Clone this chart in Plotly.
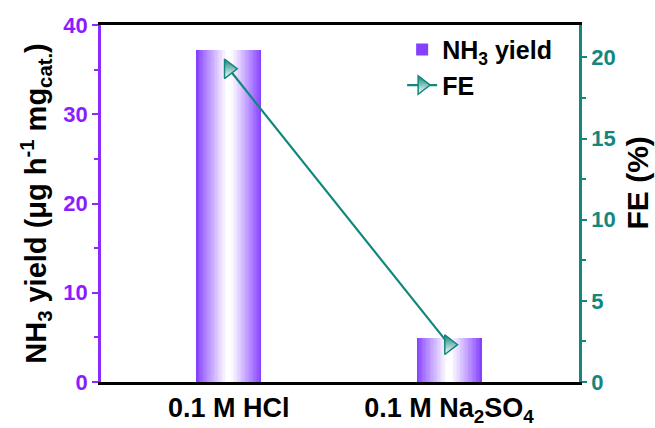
import plotly.graph_objects as go

# Data
electrolytes = ["0.1 M HCl", "0.1 M Na<sub>2</sub>SO<sub>4</sub>"]
nh3_yield = [37.2, 4.9]      # µg h^-1 mg_cat.^-1
fe_percent = [19.3, 2.3]     # %

PURPLE = "#8A2BFF"
PURPLE_TXT = "#8B1CFF"
TEAL = "#13877D"
FONT = "Liberation Sans, Arial, sans-serif"

fig = go.Figure()


def mix(c1, c2, t):
    a = [int(c1[i:i + 2], 16) for i in (1, 3, 5)]
    b = [int(c2[i:i + 2], 16) for i in (1, 3, 5)]
    return "rgb(%d,%d,%d)" % tuple(round(a[j] + (b[j] - a[j]) * t) for j in range(3))


# Bars with a horizontal purple -> white -> purple shading, built from nested overlaid bars
bar_width = 0.295
layers = 24
for k in range(layers):
    frac = k / layers
    t = min(1.0, (k / (layers - 1)) ** 0.9 * 1.05)
    fig.add_trace(go.Bar(
        x=electrolytes, y=nh3_yield,
        width=bar_width * (1 - frac),
        marker=dict(color=mix("#8540FF", "#FFFFFF", t), line=dict(width=0)),
        name="NH<sub>3</sub> yield",
        showlegend=(k == 0),
        legendrank=1,
        hoverinfo="skip" if k else None,
    ))

# Faradaic efficiency on the right axis
fig.add_trace(go.Scatter(
    x=electrolytes, y=fe_percent, yaxis="y2",
    mode="lines+markers", name="FE",
    line=dict(color=TEAL, width=2.2),
    marker=dict(symbol="triangle-right", size=17, color=TEAL,
                gradient=dict(type="vertical", color="white"),
                line=dict(color=TEAL, width=1.5)),
    legendrank=2,
))

fig.update_layout(
    width=655, height=428,
    margin=dict(l=101, r=76, t=25, b=46),
    barmode="overlay",
    bargap=0,
    plot_bgcolor="white", paper_bgcolor="white",
    font=dict(family=FONT, size=20, color="black"),
    showlegend=True,
    legend=dict(x=0.63, y=0.995, xanchor="left", yanchor="top",
                bgcolor="rgba(0,0,0,0)", borderwidth=0,
                font=dict(family=FONT, size=25, color="black", weight="bold"),
                tracegroupgap=0, itemwidth=30),
    xaxis=dict(
        range=[-0.58, 1.59], automargin=False,
        showline=True, linecolor="black", linewidth=2.5, mirror=True,
        ticks="", showgrid=False, zeroline=False,
        tickfont=dict(family=FONT, size=27, color="black", weight="bold"),
    ),
    yaxis=dict(
        range=[0, 40], dtick=10, automargin=False,
        showline=True, linecolor=PURPLE, linewidth=2.5,
        ticks="outside", ticklen=6, tickwidth=2, tickcolor=PURPLE,
        minor=dict(dtick=5, ticks="outside", ticklen=4, tickwidth=2, tickcolor=PURPLE),
        showgrid=False, zeroline=False,
        tickfont=dict(family=FONT, size=22, color=PURPLE_TXT, weight="bold"),
        title=dict(text="NH<sub>3</sub> yield (\u03bcg h<sup>-1</sup> mg<sub>cat.</sub>)",
                   font=dict(family=FONT, size=29, color="black", weight="bold"),
                   standoff=9),
    ),
    yaxis2=dict(
        range=[0, 22], dtick=5, overlaying="y", side="right", automargin=False,
        showline=True, linecolor=TEAL, linewidth=2.5,
        ticks="outside", ticklen=5, tickwidth=2, tickcolor=TEAL,
        minor=dict(dtick=2.5, ticks="outside", ticklen=4, tickwidth=2, tickcolor=TEAL),
        showgrid=False, zeroline=False,
        tickfont=dict(family=FONT, size=22, color=TEAL, weight="bold"),
    ),
    annotations=[dict(
        text="FE (%)", textangle=-90, showarrow=False,
        xref="paper", yref="paper", x=1.122, y=0.557,
        xanchor="center", yanchor="middle",
        font=dict(family=FONT, size=30, color="black", weight="bold"),
    )],
)

fig.write_html("out.html")
